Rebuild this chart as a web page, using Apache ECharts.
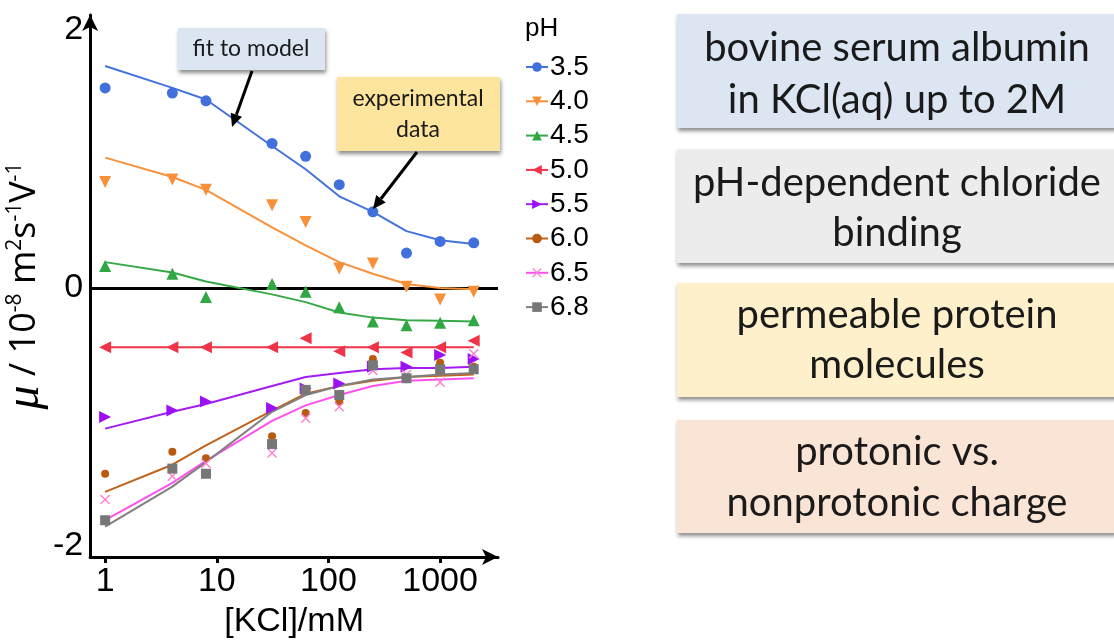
<!DOCTYPE html>
<html>
<head>
<meta charset="utf-8">
<script src="https://cdn.jsdelivr.net/npm/echarts@6/dist/echarts.min.js"></script>
<style>
  html, body { margin: 0; padding: 0; background: #fff; }
  #chart { width: 1114px; height: 644px; }
</style>
</head>
<body>
<div id="chart"></div>
<script>
// ---- data ----
const kcl = [1, 4, 8, 31.25, 62.5, 125, 250, 500, 1000, 2000];
const phLabels = ['3.5', '4.0', '4.5', '5.0', '5.5', '6.0', '6.5', '6.8'];
const xTickValues = [1, 10, 100, 1000];
const yTickValues = [-2, 0, 2];

const exp35 = [1.55, 1.51, 1.45, 1.12, 1.02, 0.80, 0.59, 0.27, 0.36, 0.35];
const fit35 = [1.72, 1.55, 1.46, 1.10, 0.92, 0.71, 0.59, 0.44, 0.37, 0.34];
const exp40 = [0.82, 0.84, 0.76, 0.64, 0.51, 0.15, 0.19, 0.01, -0.09, -0.03];
const fit40 = [1.01, 0.86, 0.76, 0.47, 0.33, 0.20, 0.11, 0.03, 0.00, -0.01];
const exp45 = [0.17, 0.11, -0.07, 0.03, -0.03, -0.15, -0.26, -0.29, -0.27, -0.25];
const fit45 = [0.20, 0.12, 0.05, -0.05, -0.11, -0.19, -0.23, -0.25, -0.255, -0.26];
const exp50 = [-0.46, -0.46, -0.46, -0.46, -0.39, -0.49, -0.46, -0.50, -0.46, -0.41];
const fit50 = [-0.46, -0.46, -0.46, -0.46, -0.46, -0.46, -0.46, -0.46, -0.46, -0.46];
const exp55 = [-1.00, -0.95, -0.88, -0.93, -0.78, -0.74, -0.61, -0.61, -0.52, -0.55];
const fit55 = [-1.09, -0.96, -0.90, -0.76, -0.69, -0.66, -0.63, -0.62, -0.62, -0.61];
const exp60 = [-1.44, -1.27, -1.32, -1.15, -0.97, -0.88, -0.55, -0.70, -0.58, -0.61];
const fit60 = [-1.58, -1.37, -1.22, -0.95, -0.82, -0.76, -0.72, -0.69, -0.68, -0.67];
const exp65 = [-1.64, -1.46, -1.36, -1.28, -1.01, -0.92, -0.64, -0.67, -0.73, -0.51];
const fit65 = [-1.80, -1.51, -1.34, -1.03, -0.91, -0.83, -0.76, -0.72, -0.71, -0.70];
const exp68 = [-1.80, -1.40, -1.44, -1.21, -0.79, -0.83, -0.60, -0.70, -0.63, -0.63];
const fit68 = [-1.85, -1.54, -1.35, -0.96, -0.83, -0.76, -0.71, -0.69, -0.67, -0.66];

const expSets = [exp35, exp40, exp45, exp50, exp55, exp60, exp65, exp68];
const fitSets = [fit35, fit40, fit45, fit50, fit55, fit60, fit65, fit68];

// ---- styles ----
const lineColors = ['#4472dc', '#f8913a', '#36a848', '#ef3348', '#a31cf2', '#c0631a', '#ff50f0', '#808080'];
const markColors = ['#4170dd', '#f8903a', '#2fa843', '#ef3348', '#9d10f5', '#b85a10', '#ff80d0', '#777777'];
const xPath = 'path://M1,0 L5,4 L9,0 L10,1 L6,5 L10,9 L9,10 L5,6 L1,10 L0,9 L4,5 L0,1 Z';
const symbols = ['circle', 'triangle', 'triangle', 'triangle', 'triangle', 'circle', xPath, 'rect'];
const rotates = [0, 180, 0, 90, -90, 0, 0, 0];
const sizes = [11, 12, 12, 12, 12, 8, 10, 10];

const pair = (vals) => kcl.map((k, i) => [k, vals[i]]);

const series = [];
fitSets.forEach((f, i) => {
  const s = {
    name: phLabels[i],
    type: 'line',
    data: pair(f),
    showSymbol: false,
    symbol: symbols[i],
    symbolRotate: rotates[i],
    symbolSize: sizes[i],
    smooth: false,
    lineStyle: { color: lineColors[i], width: 2 },
    itemStyle: { color: markColors[i] },
    z: 2,
    silent: true
  };
  if (i === 0) {
    s.markLine = {
      silent: true,
      symbol: 'none',
      label: { show: false },
      lineStyle: { color: '#000', width: 3, type: 'solid' },
      data: [{ yAxis: 0 }],
      z: 1
    };
  }
  series.push(s);
});
expSets.forEach((e, i) => {
  series.push({
    name: phLabels[i],
    type: 'scatter',
    data: pair(e),
    symbol: symbols[i],
    symbolRotate: rotates[i],
    symbolSize: sizes[i],
    itemStyle: { color: markColors[i], opacity: 1 },
    z: 3,
    silent: true
  });
});

// ---- annotation helpers ----
function arrow(x1, y1, x2, y2) {
  const dx = x2 - x1, dy = y2 - y1, len = Math.hypot(dx, dy);
  const ux = dx / len, uy = dy / len;
  const hl = 13, hw = 6;
  const bx = x2 - ux * hl, by = y2 - uy * hl;
  return [
    { type: 'line', shape: { x1: x1, y1: y1, x2: bx, y2: by }, style: { stroke: '#000', lineWidth: 3 }, z: 10 },
    { type: 'polygon', shape: { points: [[x2, y2], [bx - uy * hw, by + ux * hw], [bx + uy * hw, by - ux * hw]] }, style: { fill: '#000' }, z: 10 }
  ];
}
const shadow = { shadowBlur: 4, shadowOffsetX: 1, shadowOffsetY: 3, shadowColor: 'rgba(0,0,0,0.45)' };
function box(x, y, w, h, fill, text, cx, cy, fontSize, lineHeight) {
  return [
    { type: 'rect', shape: { x: x, y: y, width: w, height: h }, style: Object.assign({ fill: fill }, shadow), z: 8 },
    { type: 'text', x: cx, y: cy, style: { text: text, fill: '#1a1a1a', fontSize: fontSize, fontFamily: 'Lato', lineHeight: lineHeight, align: 'center', verticalAlign: 'middle' }, z: 9 }
  ];
}

const graphics = [].concat(
  box(178, 28, 147, 42, '#dce6f2', 'fit to model', 251, 49, 23, 28),
  box(337, 77, 163, 74, '#fde59d', 'experimental\ndata', 418, 114, 23, 31),
  arrow(252, 71, 232, 127),
  arrow(417, 152, 373, 209),
  box(677, 14, 440, 114, '#dce6f2', 'bovine serum albumin\nin KCl(aq) up to 2M', 897, 74, 40, 52),
  box(677, 149, 440, 114, '#ececec', 'pH-dependent chloride\nbinding', 897, 208, 40, 50),
  box(677, 283, 440, 114, '#fdf0cb', 'permeable protein\nmolecules', 897, 340, 40, 50),
  box(677, 420, 440, 113, '#fae4d5', 'protonic vs.\nnonprotonic charge', 897, 478, 40, 51)
);

const chart = echarts.init(document.getElementById('chart'), null, { renderer: 'canvas' });
chart.setOption({
  animation: false,
  backgroundColor: '#fff',
  title: {
    text: 'pH', left: 525, top: 16, padding: 0,
    textStyle: { fontSize: 26, fontWeight: 'normal', fontFamily: 'Liberation Sans', color: '#000' }
  },
  legend: {
    orient: 'vertical', left: 525, top: 53, padding: 0,
    itemWidth: 22, itemHeight: 12, itemGap: 6.3,
    selectedMode: false,
    data: phLabels,
    textStyle: { fontSize: 28, lineHeight: 28, fontFamily: 'Liberation Sans', color: '#000', padding: [0, 0, 0, -3] }
  },
  grid: { left: 89, right: 616, top: 15, bottom: 85, containLabel: false },
  xAxis: {
    type: 'log', logBase: 10, min: 0.734, max: 3300,
    axisLine: { show: true, onZero: false, symbol: ['none', 'arrow'], symbolSize: [12, 16], lineStyle: { color: '#000', width: 3 } },
    axisTick: { show: true, customValues: xTickValues, length: 6, lineStyle: { color: '#000', width: 3 } },
    axisLabel: { customValues: xTickValues, formatter: (v) => String(Math.round(v)), fontSize: 34, fontFamily: 'Liberation Sans', color: '#000', margin: 8 },
    splitLine: { show: false },
    minorTick: { show: false },
    name: '[KCl]/mM', nameLocation: 'middle', nameGap: 48,
    nameTextStyle: { fontSize: 34, fontFamily: 'Liberation Sans', color: '#000' }
  },
  yAxis: {
    type: 'value', min: -2.085, max: 2.115,
    axisLine: { show: true, onZero: false, symbol: ['none', 'arrow'], symbolSize: [12, 16], lineStyle: { color: '#000', width: 3 } },
    axisTick: { show: false },
    axisLabel: { customValues: yTickValues, formatter: (v) => String(v), fontSize: 34, fontFamily: 'Liberation Sans', color: '#000', margin: 7 },
    splitLine: { show: false },
    name: '{mu|μ}{t| / 10}{s|-8}{t| m}{s|2}{t|s}{s|-1}{t|V}{s|-1}',
    nameLocation: 'middle', nameGap: 32, nameRotate: 90,
    nameTextStyle: {
      rich: {
        mu: { fontSize: 48, fontStyle: 'italic', fontFamily: 'Liberation Serif', color: '#000', lineHeight: 44 },
        t: { fontSize: 36, fontFamily: 'Open Sans', color: '#000', lineHeight: 44 },
        s: { fontSize: 21, fontFamily: 'Open Sans', color: '#000', lineHeight: 44, verticalAlign: 'top', padding: [2, 0, 0, 0] }
      }
    }
  },
  series: series,
  graphic: graphics
});
</script>
</body>
</html>
